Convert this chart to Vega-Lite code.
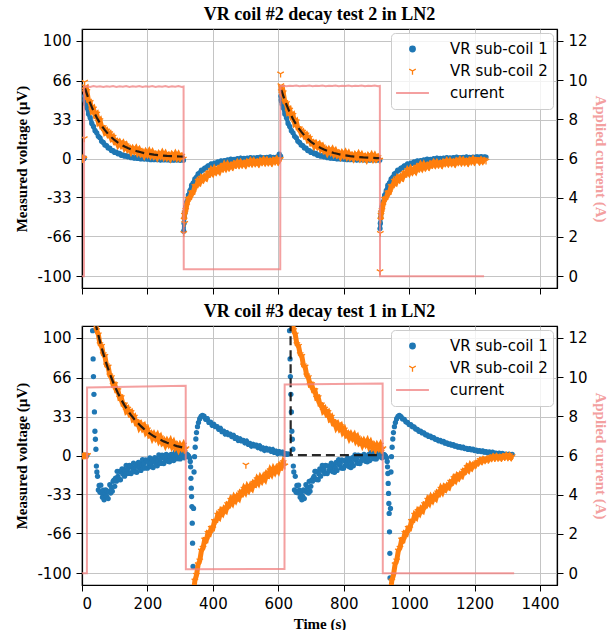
{
"$schema": "https://vega.github.io/schema/vega-lite/v6.json",
"background": "white",
"padding": {"left": 14, "right": 4, "top": 5, "bottom": 4},
"config": {
 "view": {"stroke": "black", "strokeWidth": 1.2},
 "axis": {"domainColor": "black", "domainWidth": 1.2, "tickColor": "black", "tickWidth": 1, "tickSize": 6, "labelFont": "DejaVu Sans", "labelFontSize": 15, "labelColor": "black", "labelPadding": 5, "titleFont": "Liberation Serif", "titleFontSize": 15, "titleFontWeight": "bold", "titleColor": "black", "gridColor": "#c4c4c4", "gridWidth": 1},
 "title": {"font": "Liberation Serif", "fontSize": 18, "fontWeight": "bold", "color": "black", "offset": 5},
 "legend": {"labelFont": "DejaVu Sans", "labelFontSize": 15, "labelColor": "black"}
},
"datasets": {
"blue1": [
{"t":0,"v":0},{"t":2,"v":0.1},{"t":4,"v":-0.1},{"t":6,"v":0},{"t":7,"v":0.6},{"t":7.5,"v":null},{"t":8,"v":53},{"t":9,"v":50},{"t":10,"v":48.5},{"t":12,"v":46},
{"t":15,"v":43.1},{"t":20,"v":37.8},{"t":25,"v":34.6},{"t":30,"v":29.8},{"t":35,"v":27.2},{"t":40,"v":23.6},{"t":45,"v":21.8},{"t":50,"v":18.8},{"t":55,"v":17.6},{"t":60,"v":14.6},{"t":65,"v":13.6},{"t":70,"v":11.5},{"t":75,"v":10.9},{"t":80,"v":9.0},{"t":85,"v":8.8},{"t":90,"v":6.7},{"t":95,"v":6.6},{"t":100,"v":5.2},{"t":105,"v":5.3},{"t":110,"v":4.0},{"t":115,"v":4.3},{"t":120,"v":2.7},{"t":125,"v":3.0},{"t":130,"v":2.0},{"t":135,"v":2.4},{"t":140,"v":1.4},{"t":145,"v":2.0},{"t":150,"v":0.7},{"t":155,"v":1.1},{"t":160,"v":0.3},{"t":165,"v":1.0},{"t":170,"v":0.1},{"t":175,"v":0.8},{"t":180,"v":-0.4},{"t":185,"v":0.2},{"t":190,"v":-0.5},{"t":195,"v":0.2},{"t":200,"v":-0.6},{"t":205,"v":0.2},{"t":210,"v":-1.0},{"t":215,"v":-0.3},{"t":220,"v":-1.0},{"t":225,"v":-0.2},{"t":230,"v":-1.0},{"t":235,"v":-0.1},{"t":240,"v":-1.3},{"t":245,"v":-0.6},{"t":250,"v":-1.2},{"t":255,"v":-0.5},{"t":260,"v":-1.2},{"t":265,"v":-0.3},{"t":270,"v":-1.4},{"t":275,"v":-0.8},{"t":280,"v":-1.4},{"t":285,"v":-0.6},{"t":290,"v":-1.3},{"t":295,"v":-0.4},{"t":300,"v":-1.5},{"t":305,"v":-0.8},{"t":310,"v":-1.4},{"t":310.5,"v":null},
{"t":311,"v":-61.8},{"t":312,"v":-55},{"t":313,"v":-50},{"t":314,"v":-47},{"t":315,"v":-45},{"t":317,"v":-41},{"t":320,"v":-37},{"t":325,"v":-31.1},{"t":330,"v":-27.3},{"t":335,"v":-22.7},{"t":340,"v":-20.7},{"t":345,"v":-17.4},{"t":350,"v":-15.8},{"t":355,"v":-13.1},{"t":360,"v":-12.2},{"t":365,"v":-9.9},{"t":370,"v":-9.8},{"t":375,"v":-8.1},{"t":380,"v":-7.8},{"t":385,"v":-6.2},{"t":390,"v":-6.2},{"t":395,"v":-4.6},{"t":400,"v":-5.2},{"t":405,"v":-4.0},{"t":410,"v":-4.1},{"t":415,"v":-2.9},{"t":420,"v":-3.3},{"t":425,"v":-2.0},{"t":430,"v":-2.8},{"t":435,"v":-1.9},{"t":440,"v":-2.2},{"t":445,"v":-1.2},{"t":450,"v":-1.7},{"t":455,"v":-0.6},{"t":460,"v":-1.5},{"t":465,"v":-0.7},{"t":470,"v":-1.1},{"t":475,"v":-0.2},{"t":480,"v":-0.8},{"t":485,"v":0.3},{"t":490,"v":-0.8},{"t":495,"v":0.1},{"t":500,"v":-0.5},{"t":505,"v":0.4},{"t":510,"v":-0.2},{"t":515,"v":0.8},{"t":520,"v":-0.3},{"t":525,"v":0.5},{"t":530,"v":-0.1},{"t":535,"v":0.8},{"t":540,"v":0.2},{"t":545,"v":1.1},{"t":550,"v":0.0},{"t":555,"v":0.8},{"t":560,"v":0.2},{"t":565,"v":1.0},{"t":570,"v":0.4},{"t":575,"v":1.3},{"t":580,"v":0.2},{"t":585,"v":0.9},{"t":590,"v":0.4},{"t":595,"v":1.2},{"t":600,"v":0.5},{"t":603,"v":3.7},{"t":605,"v":1.4},{"t":605.5,"v":null},
{"t":606,"v":0.8},{"t":607,"v":2},{"t":607.5,"v":null},{"t":608,"v":53},{"t":609,"v":50},{"t":610,"v":48.5},{"t":612,"v":46},
{"t":615,"v":43.1},{"t":620,"v":37.8},{"t":625,"v":34.6},{"t":630,"v":29.8},{"t":635,"v":27.2},{"t":640,"v":23.6},{"t":645,"v":21.8},{"t":650,"v":18.8},{"t":655,"v":17.6},{"t":660,"v":14.6},{"t":665,"v":13.6},{"t":670,"v":11.5},{"t":675,"v":10.9},{"t":680,"v":9.0},{"t":685,"v":8.8},{"t":690,"v":6.7},{"t":695,"v":6.6},{"t":700,"v":5.2},{"t":705,"v":5.3},{"t":710,"v":4.0},{"t":715,"v":4.3},{"t":720,"v":2.7},{"t":725,"v":3.0},{"t":730,"v":2.0},{"t":735,"v":2.4},{"t":740,"v":1.4},{"t":745,"v":2.0},{"t":750,"v":0.7},{"t":755,"v":1.1},{"t":760,"v":0.3},{"t":765,"v":1.0},{"t":770,"v":0.1},{"t":775,"v":0.8},{"t":780,"v":-0.4},{"t":785,"v":0.2},{"t":790,"v":-0.5},{"t":795,"v":0.2},{"t":800,"v":-0.6},{"t":805,"v":0.2},{"t":810,"v":-1.0},{"t":815,"v":-0.3},{"t":820,"v":-1.0},{"t":825,"v":-0.2},{"t":830,"v":-1.0},{"t":835,"v":-0.1},{"t":840,"v":-1.3},{"t":845,"v":-0.6},{"t":850,"v":-1.2},{"t":855,"v":-0.5},{"t":860,"v":-1.2},{"t":865,"v":-0.3},{"t":870,"v":-1.4},{"t":875,"v":-0.8},{"t":880,"v":-1.4},{"t":885,"v":-0.6},{"t":890,"v":-1.3},{"t":895,"v":-0.4},{"t":900,"v":-1.5},{"t":905,"v":-0.8},{"t":910,"v":-1.4},{"t":910.5,"v":null},
{"t":911,"v":-59.5},{"t":912,"v":-55},{"t":913,"v":-50},{"t":914,"v":-47},{"t":915,"v":-45},{"t":917,"v":-41},{"t":920,"v":-37},{"t":925,"v":-31.1},{"t":930,"v":-27.3},{"t":935,"v":-22.7},{"t":940,"v":-20.7},{"t":945,"v":-17.4},{"t":950,"v":-15.8},{"t":955,"v":-13.1},{"t":960,"v":-12.2},{"t":965,"v":-9.9},{"t":970,"v":-9.8},{"t":975,"v":-8.1},{"t":980,"v":-7.8},{"t":985,"v":-6.2},{"t":990,"v":-6.2},{"t":995,"v":-4.6},{"t":1000,"v":-5.2},{"t":1005,"v":-4.0},{"t":1010,"v":-4.1},{"t":1015,"v":-2.9},{"t":1020,"v":-3.3},{"t":1025,"v":-2.0},{"t":1030,"v":-2.8},{"t":1035,"v":-1.9},{"t":1040,"v":-2.2},{"t":1045,"v":-1.2},{"t":1050,"v":-1.7},{"t":1055,"v":-0.6},{"t":1060,"v":-1.5},{"t":1065,"v":-0.7},{"t":1070,"v":-1.1},{"t":1075,"v":-0.2},{"t":1080,"v":-0.8},{"t":1085,"v":0.3},{"t":1090,"v":-0.8},{"t":1095,"v":0.1},{"t":1100,"v":-0.5},{"t":1105,"v":0.4},{"t":1110,"v":-0.2},{"t":1115,"v":0.8},{"t":1120,"v":-0.3},{"t":1125,"v":0.5},{"t":1130,"v":-0.1},{"t":1135,"v":0.8},{"t":1140,"v":0.2},{"t":1145,"v":1.1},{"t":1150,"v":0.0},{"t":1155,"v":0.8},{"t":1160,"v":0.2},{"t":1165,"v":1.0},{"t":1170,"v":0.4},{"t":1175,"v":1.3},{"t":1180,"v":0.2},{"t":1185,"v":0.9},{"t":1190,"v":0.4},{"t":1195,"v":1.2},{"t":1200,"v":0.5},{"t":1205,"v":1.4},{"t":1210,"v":1.3},{"t":1215,"v":0.9},{"t":1220,"v":1.5},{"t":1225,"v":1.0},{"t":1230,"v":1.4},{"t":1235,"v":1.2}
],
"orange1": [
{"t":0,"v":0.3},{"t":2,"v":-0.4},{"t":4,"v":0.5},{"t":6,"v":-0.2},{"t":6.5,"v":null},{"t":7,"v":17},{"t":8,"v":65},{"t":9,"v":58.5},{"t":10,"v":61},{"t":11,"v":56.5},{"t":12,"v":55.5},
{"t":15,"v":57.1},{"t":20,"v":48.8},{"t":25,"v":47.8},{"t":30,"v":40.8},{"t":35,"v":42.3},{"t":40,"v":36.7},{"t":45,"v":37.9},{"t":50,"v":30.9},{"t":55,"v":32.4},{"t":60,"v":26.6},{"t":65,"v":26.4},{"t":70,"v":22.2},{"t":75,"v":23.6},{"t":80,"v":20.2},{"t":85,"v":21.3},{"t":90,"v":17.0},{"t":95,"v":18.3},{"t":100,"v":14.2},{"t":105,"v":15.0},{"t":110,"v":11.6},{"t":115,"v":13.7},{"t":120,"v":11.1},{"t":125,"v":12.9},{"t":130,"v":9.2},{"t":135,"v":11.1},{"t":140,"v":7.6},{"t":145,"v":8.8},{"t":150,"v":5.8},{"t":155,"v":8.4},{"t":160,"v":6.2},{"t":165,"v":8.4},{"t":170,"v":5.0},{"t":175,"v":7.2},{"t":180,"v":4.0},{"t":185,"v":5.4},{"t":190,"v":2.7},{"t":195,"v":5.6},{"t":200,"v":3.5},{"t":205,"v":5.9},{"t":210,"v":2.7},{"t":215,"v":5.1},{"t":220,"v":2.0},{"t":225,"v":3.6},{"t":230,"v":1.1},{"t":235,"v":4.0},{"t":240,"v":2.1},{"t":245,"v":4.6},{"t":250,"v":1.5},{"t":255,"v":3.9},{"t":260,"v":0.9},{"t":265,"v":2.7},{"t":270,"v":0.2},{"t":275,"v":3.2},{"t":280,"v":1.3},{"t":285,"v":3.8},{"t":290,"v":0.8},{"t":295,"v":3.3},{"t":300,"v":0.4},{"t":305,"v":2.1},{"t":310,"v":-0.3},{"t":310.5,"v":null},
{"t":311,"v":-63.5},{"t":312,"v":-52},{"t":313,"v":-48},{"t":314,"v":-55},{"t":315,"v":-46},{"t":317,"v":-44},{"t":320,"v":-40},{"t":325,"v":-34.4},{"t":330,"v":-33.8},{"t":335,"v":-29.0},{"t":340,"v":-28.9},{"t":345,"v":-23.6},{"t":350,"v":-23.4},{"t":355,"v":-19.1},{"t":360,"v":-20.5},{"t":365,"v":-16.5},{"t":370,"v":-18.1},{"t":375,"v":-15.2},{"t":380,"v":-16.5},{"t":385,"v":-12.5},{"t":390,"v":-13.4},{"t":395,"v":-10.0},{"t":400,"v":-12.3},{"t":405,"v":-9.0},{"t":410,"v":-11.3},{"t":415,"v":-8.9},{"t":420,"v":-10.8},{"t":425,"v":-7.2},{"t":430,"v":-8.6},{"t":435,"v":-5.5},{"t":440,"v":-8.1},{"t":445,"v":-5.2},{"t":450,"v":-7.7},{"t":455,"v":-5.7},{"t":460,"v":-7.3},{"t":465,"v":-4.5},{"t":470,"v":-5.8},{"t":475,"v":-3.4},{"t":480,"v":-5.6},{"t":485,"v":-3.3},{"t":490,"v":-5.4},{"t":495,"v":-3.8},{"t":500,"v":-5.6},{"t":505,"v":-2.9},{"t":510,"v":-4.3},{"t":515,"v":-2.0},{"t":520,"v":-4.3},{"t":525,"v":-2.1},{"t":530,"v":-4.2},{"t":535,"v":-2.7},{"t":540,"v":-4.5},{"t":545,"v":-1.9},{"t":550,"v":-3.3},{"t":555,"v":-1.1},{"t":560,"v":-3.4},{"t":565,"v":-1.3},{"t":570,"v":-3.5},{"t":575,"v":-2.0},{"t":580,"v":-3.8},{"t":585,"v":-1.3},{"t":590,"v":-2.7},{"t":595,"v":-0.6},{"t":600,"v":-2.9},{"t":605,"v":-0.8},
{"t":606,"v":-0.5},{"t":606.5,"v":null},{"t":607,"v":72},{"t":608,"v":62},{"t":609,"v":57},{"t":610,"v":60.5},{"t":611,"v":55},{"t":612,"v":55},
{"t":615,"v":56.1},{"t":620,"v":47.8},{"t":625,"v":46.8},{"t":630,"v":39.8},{"t":635,"v":41.3},{"t":640,"v":35.7},{"t":645,"v":36.9},{"t":650,"v":29.9},{"t":655,"v":31.4},{"t":660,"v":25.6},{"t":665,"v":25.4},{"t":670,"v":21.2},{"t":675,"v":22.6},{"t":680,"v":19.2},{"t":685,"v":20.3},{"t":690,"v":16.0},{"t":695,"v":17.3},{"t":700,"v":13.2},{"t":705,"v":14.0},{"t":710,"v":10.6},{"t":715,"v":12.7},{"t":720,"v":10.1},{"t":725,"v":11.9},{"t":730,"v":8.2},{"t":735,"v":10.1},{"t":740,"v":6.6},{"t":745,"v":7.8},{"t":750,"v":4.8},{"t":755,"v":7.4},{"t":760,"v":5.2},{"t":765,"v":7.4},{"t":770,"v":4.0},{"t":775,"v":6.2},{"t":780,"v":3.0},{"t":785,"v":4.4},{"t":790,"v":1.7},{"t":795,"v":4.6},{"t":800,"v":2.5},{"t":805,"v":4.9},{"t":810,"v":1.7},{"t":815,"v":4.1},{"t":820,"v":1.0},{"t":825,"v":2.6},{"t":830,"v":0.1},{"t":835,"v":3.0},{"t":840,"v":1.1},{"t":845,"v":3.6},{"t":850,"v":0.5},{"t":855,"v":2.9},{"t":860,"v":-0.1},{"t":865,"v":1.7},{"t":870,"v":-0.8},{"t":875,"v":2.2},{"t":880,"v":0.3},{"t":885,"v":2.8},{"t":890,"v":-0.2},{"t":895,"v":2.3},{"t":900,"v":-0.6},{"t":905,"v":1.1},{"t":910,"v":-1.3},{"t":910.5,"v":null},
{"t":911,"v":-96},{"t":912,"v":-63.5},{"t":913,"v":-52},{"t":914,"v":-48},{"t":915,"v":-46},{"t":917,"v":-44},{"t":920,"v":-40},{"t":925,"v":-34.4},{"t":930,"v":-33.8},{"t":935,"v":-29.0},{"t":940,"v":-28.9},{"t":945,"v":-23.6},{"t":950,"v":-23.4},{"t":955,"v":-19.1},{"t":960,"v":-20.5},{"t":965,"v":-16.5},{"t":970,"v":-18.1},{"t":975,"v":-15.2},{"t":980,"v":-16.5},{"t":985,"v":-12.5},{"t":990,"v":-13.4},{"t":995,"v":-10.0},{"t":1000,"v":-12.3},{"t":1005,"v":-9.0},{"t":1010,"v":-11.3},{"t":1015,"v":-8.9},{"t":1020,"v":-10.8},{"t":1025,"v":-7.2},{"t":1030,"v":-8.6},{"t":1035,"v":-5.5},{"t":1040,"v":-8.1},{"t":1045,"v":-5.2},{"t":1050,"v":-7.7},{"t":1055,"v":-5.7},{"t":1060,"v":-7.3},{"t":1065,"v":-4.5},{"t":1070,"v":-5.8},{"t":1075,"v":-3.4},{"t":1080,"v":-5.6},{"t":1085,"v":-3.3},{"t":1090,"v":-5.4},{"t":1095,"v":-3.8},{"t":1100,"v":-5.6},{"t":1105,"v":-2.9},{"t":1110,"v":-4.3},{"t":1115,"v":-2.0},{"t":1120,"v":-4.3},{"t":1125,"v":-2.1},{"t":1130,"v":-4.2},{"t":1135,"v":-2.7},{"t":1140,"v":-4.5},{"t":1145,"v":-1.9},{"t":1150,"v":-3.3},{"t":1155,"v":-1.1},{"t":1160,"v":-3.4},{"t":1165,"v":-1.3},{"t":1170,"v":-3.5},{"t":1175,"v":-2.0},{"t":1180,"v":-3.8},{"t":1185,"v":-1.3},{"t":1190,"v":-2.7},{"t":1195,"v":-0.6},{"t":1200,"v":-2.9},{"t":1205,"v":-0.8},{"t":1210,"v":-1.0},{"t":1215,"v":-2.8},{"t":1220,"v":-0.9},{"t":1225,"v":-2.6},{"t":1230,"v":-1.1},{"t":1235,"v":-2.0}
],
"fit1": [
{"t":9,"v":59.5,"k":1},{"t":10,"v":59.0,"k":1},{"t":15,"v":54.7,"k":1},{"t":20,"v":50.7,"k":1},{"t":25,"v":47.1,"k":1},{"t":30,"v":43.7,"k":1},{"t":35,"v":40.5,"k":1},{"t":40,"v":37.6,"k":1},{"t":45,"v":34.9,"k":1},{"t":50,"v":32.4,"k":1},{"t":55,"v":30.0,"k":1},{"t":60,"v":27.9,"k":1},{"t":70,"v":24.1,"k":1},{"t":80,"v":20.8,"k":1},{"t":90,"v":18.0,"k":1},{"t":100,"v":15.5,"k":1},{"t":110,"v":13.5,"k":1},{"t":120,"v":11.7,"k":1},{"t":130,"v":10.2,"k":1},{"t":140,"v":8.9,"k":1},{"t":150,"v":7.7,"k":1},{"t":160,"v":6.8,"k":1},{"t":170,"v":6.0,"k":1},{"t":180,"v":5.3,"k":1},{"t":190,"v":4.6,"k":1},{"t":200,"v":4.1,"k":1},{"t":220,"v":3.3,"k":1},{"t":240,"v":2.7,"k":1},{"t":260,"v":2.2,"k":1},{"t":280,"v":1.9,"k":1},{"t":300,"v":1.7,"k":1},{"t":312,"v":1.6,"k":1},
{"t":609,"v":58.2,"k":2},{"t":610,"v":57.7,"k":2},{"t":615,"v":53.4,"k":2},{"t":620,"v":49.4,"k":2},{"t":625,"v":45.8,"k":2},{"t":630,"v":42.4,"k":2},{"t":635,"v":39.2,"k":2},{"t":640,"v":36.3,"k":2},{"t":645,"v":33.6,"k":2},{"t":650,"v":31.1,"k":2},{"t":655,"v":28.7,"k":2},{"t":660,"v":26.6,"k":2},{"t":670,"v":22.8,"k":2},{"t":680,"v":19.5,"k":2},{"t":690,"v":16.7,"k":2},{"t":700,"v":14.2,"k":2},{"t":710,"v":12.2,"k":2},{"t":720,"v":10.4,"k":2},{"t":730,"v":8.9,"k":2},{"t":740,"v":7.6,"k":2},{"t":750,"v":6.4,"k":2},{"t":760,"v":5.5,"k":2},{"t":770,"v":4.7,"k":2},{"t":780,"v":4.0,"k":2},{"t":790,"v":3.3,"k":2},{"t":800,"v":2.8,"k":2},{"t":820,"v":2.0,"k":2},{"t":840,"v":1.4,"k":2},{"t":860,"v":0.9,"k":2},{"t":880,"v":0.6,"k":2},{"t":900,"v":0.4,"k":2},{"t":912,"v":0.3,"k":2}
],
"cur1": [
{"t":0,"A":0},{"t":6,"A":0},{"t":6.5,"A":9.66},{"t":15,"A":9.68},{"t":25,"A":9.65},{"t":35,"A":9.69},{"t":45,"A":9.66},{"t":55,"A":9.68},{"t":65,"A":9.65},{"t":75,"A":9.68},{"t":85,"A":9.66},{"t":95,"A":9.69},{"t":105,"A":9.65},{"t":115,"A":9.68},{"t":125,"A":9.66},{"t":135,"A":9.69},{"t":145,"A":9.65},{"t":155,"A":9.68},{"t":165,"A":9.66},{"t":175,"A":9.69},{"t":185,"A":9.65},{"t":195,"A":9.68},{"t":205,"A":9.66},{"t":215,"A":9.69},{"t":225,"A":9.65},{"t":235,"A":9.68},{"t":245,"A":9.66},{"t":255,"A":9.69},{"t":265,"A":9.65},{"t":275,"A":9.68},{"t":285,"A":9.66},{"t":295,"A":9.69},{"t":305,"A":9.65},{"t":310.5,"A":9.67},{"t":311,"A":0.36},{"t":606,"A":0.36},{"t":606.5,"A":9.69},{"t":615,"A":9.71},{"t":625,"A":9.68},{"t":635,"A":9.71},{"t":645,"A":9.69},{"t":655,"A":9.72},{"t":665,"A":9.68},{"t":675,"A":9.71},{"t":685,"A":9.69},{"t":695,"A":9.72},{"t":705,"A":9.68},{"t":715,"A":9.71},{"t":725,"A":9.69},{"t":735,"A":9.72},{"t":745,"A":9.68},{"t":755,"A":9.71},{"t":765,"A":9.69},{"t":775,"A":9.72},{"t":785,"A":9.68},{"t":795,"A":9.71},{"t":805,"A":9.69},{"t":815,"A":9.72},{"t":825,"A":9.68},{"t":835,"A":9.71},{"t":845,"A":9.69},{"t":855,"A":9.72},{"t":865,"A":9.68},{"t":875,"A":9.71},{"t":885,"A":9.69},{"t":895,"A":9.72},{"t":905,"A":9.68},{"t":910.5,"A":9.7},{"t":911,"A":0},{"t":1229,"A":0}
],
"blue2": [
{"t":0,"v":0},{"t":3,"v":0.2},{"t":6,"v":-0.1},{"t":9,"v":0.1},{"t":12,"v":0},{"t":15,"v":0.2},
{"t":32.5,"v":106},{"t":34,"v":82},{"t":35,"v":67},{"t":36.5,"v":52},{"t":38,"v":37},{"t":39.5,"v":20.6},{"t":41,"v":13.8},{"t":42.5,"v":5.3},{"t":44,"v":-9},{"t":45.5,"v":-14},
{"t":47.5,"v":-17.7},{"t":50,"v":-29.2},{"t":52.5,"v":-25.5},{"t":55,"v":-31.3},{"t":57.5,"v":-25.2},{"t":60,"v":-31.7},{"t":62.5,"v":-35.4},{"t":65,"v":-29.4},{"t":67.5,"v":-37.6},{"t":70,"v":-32.1},{"t":72.5,"v":-29.3},{"t":75,"v":-34.8},{"t":77.5,"v":-30.3},{"t":80,"v":-36.6},{"t":82.5,"v":-30.7},{"t":85,"v":-24.8},{"t":87.5,"v":-31.9},{"t":90,"v":-26.9},{"t":92.5,"v":-30.3},{"t":95,"v":-21.9},{"t":97.5,"v":-20.9},{"t":100,"v":-26.2},{"t":102.5,"v":-19.2},{"t":105,"v":-21.8},{"t":107.5,"v":-13.4},{"t":110,"v":-17.7},{"t":112.5,"v":-20.4},{"t":115,"v":-13.4},{"t":117.5,"v":-20.6},{"t":120,"v":-14.1},{"t":122.5,"v":-11.3},{"t":125,"v":-15.8},{"t":127.5,"v":-11.9},{"t":130,"v":-17.6},{"t":132.5,"v":-12.9},{"t":135,"v":-8.3},{"t":137.5,"v":-15.3},{"t":140,"v":-11.5},{"t":142.5,"v":-15.2},{"t":145,"v":-8.3},{"t":147.5,"v":-8.9},{"t":150,"v":-15.3},{"t":152.5,"v":-9.8},{"t":155,"v":-13.1},{"t":157.5,"v":-6.4},{"t":160,"v":-11.1},{"t":162.5,"v":-13.7},{"t":165,"v":-7.7},{"t":167.5,"v":-14.3},{"t":170,"v":-8.7},{"t":172.5,"v":-5.9},{"t":175,"v":-10.6},{"t":177.5,"v":-6.8},{"t":180,"v":-12.7},{"t":182.5,"v":-8.1},{"t":185,"v":-3.5},{"t":187.5,"v":-10.6},{"t":190,"v":-6.8},{"t":192.5,"v":-10.6},{"t":195,"v":-3.7},{"t":197.5,"v":-4.4},{"t":200,"v":-10.8},{"t":202.5,"v":-5.4},{"t":205,"v":-8.7},{"t":207.5,"v":-2.1},{"t":210,"v":-6.8},{"t":212.5,"v":-9.5},{"t":215,"v":-3.5},{"t":217.5,"v":-10.2},{"t":220,"v":-4.6},{"t":222.5,"v":-1.9},{"t":225,"v":-6.6},{"t":227.5,"v":-2.8},{"t":230,"v":-8.7},{"t":232.5,"v":-4.1},{"t":235,"v":0.5},{"t":237.5,"v":-6.6},{"t":240,"v":-2.8},{"t":242.5,"v":-6.6},{"t":245,"v":0.3},{"t":247.5,"v":-0.4},{"t":250,"v":-6.8},{"t":252.5,"v":-1.8},{"t":255,"v":-4.2},{"t":257.5,"v":0.9},{"t":260,"v":-2.8},{"t":262.5,"v":-4.9},{"t":265,"v":-0.2},{"t":267.5,"v":-5.4},{"t":270,"v":-1.1},{"t":272.5,"v":1.0},{"t":275,"v":-2.7},{"t":277.5,"v":0.3},{"t":280,"v":-4.3},{"t":282.5,"v":-0.8},{"t":285,"v":2.8},{"t":287.5,"v":-2.7},{"t":290,"v":0.3},{"t":292.5,"v":-2.7},{"t":295,"v":2.7},{"t":297.5,"v":2.1},{"t":300,"v":-2.9},{"t":302.5,"v":1.2},{"t":305,"v":-1.3},{"t":307.5,"v":3.9},{"t":310,"v":0.1},{"t":312.5,"v":-2.0},{"t":315,"v":2.6},{"t":317.5,"v":-0.9},
{"t":320,"v":1.0},{"t":323,"v":0.5},{"t":326,"v":-0.5},{"t":329,"v":-2},{"t":331,"v":-5},{"t":332,"v":-9.6},{"t":333,"v":-19.4},{"t":334,"v":-27.8},{"t":335,"v":-34.9},{"t":336,"v":-43.4},{"t":337,"v":-57.5},{"t":338,"v":-74.5},{"t":339.5,"v":-94.3},{"t":341,"v":-45},{"t":342.5,"v":-14},{"t":344,"v":-1},{"t":346,"v":7},{"t":348,"v":14},{"t":350,"v":19.5},{"t":353,"v":24.5},{"t":356,"v":28},{"t":360,"v":31.3},{"t":364,"v":33.2},{"t":368,"v":34},
{"t":373,"v":33.5},{"t":378,"v":30.8},{"t":383,"v":31.3},{"t":388,"v":28.1},{"t":393,"v":28.3},{"t":398,"v":25.6},{"t":403,"v":26.5},{"t":408,"v":24.5},{"t":413,"v":24.6},{"t":418,"v":22.3},{"t":423,"v":23.1},{"t":428,"v":20.2},{"t":433,"v":20.7},{"t":438,"v":18.3},{"t":443,"v":19.5},{"t":448,"v":17.7},{"t":453,"v":18.1},{"t":458,"v":16.1},{"t":463,"v":17.1},{"t":468,"v":14.5},{"t":473,"v":15.1},{"t":478,"v":12.8},{"t":483,"v":14.1},{"t":488,"v":12.4},{"t":493,"v":12.9},{"t":498,"v":10.9},{"t":503,"v":12.1},{"t":508,"v":9.5},{"t":513,"v":10.3},{"t":518,"v":8.1},{"t":523,"v":9.5},{"t":528,"v":8.1},{"t":533,"v":8.7},{"t":538,"v":6.8},{"t":543,"v":8.1},{"t":548,"v":5.7},{"t":553,"v":6.5},{"t":558,"v":4.5},{"t":563,"v":6.0},{"t":568,"v":4.7},{"t":573,"v":5.4},{"t":578,"v":3.6},{"t":583,"v":5.0},{"t":588,"v":2.6},{"t":593,"v":3.6},{"t":598,"v":1.7},{"t":603,"v":3.3},{"t":608,"v":2.0},{"t":613,"v":2.8},{"t":618,"v":1.1},{"t":622,"v":1.6},{"t":626,"v":0.9},{"t":630,"v":1.3},{"t":631,"v":null},
{"t":634.5,"v":106},{"t":636,"v":82},{"t":637,"v":67},{"t":638.5,"v":52},{"t":640,"v":37},{"t":641.5,"v":20.6},{"t":643,"v":13.8},{"t":644.5,"v":5.3},{"t":646,"v":-9},{"t":647.5,"v":-14},
{"t":649.5,"v":-29.2},{"t":652,"v":-17.7},{"t":654.5,"v":-31.3},{"t":657,"v":-25.5},{"t":659.5,"v":-31.7},{"t":662,"v":-25.2},{"t":664.5,"v":-29.4},{"t":667,"v":-35.4},{"t":669.5,"v":-32.1},{"t":672,"v":-37.6},{"t":674.5,"v":-34.8},{"t":677,"v":-29.3},{"t":679.5,"v":-36.6},{"t":682,"v":-30.3},{"t":684.5,"v":-24.8},{"t":687,"v":-30.7},{"t":689.5,"v":-26.9},{"t":692,"v":-31.9},{"t":694.5,"v":-21.9},{"t":697,"v":-30.3},{"t":699.5,"v":-26.2},{"t":702,"v":-20.9},{"t":704.5,"v":-21.8},{"t":707,"v":-19.2},{"t":709.5,"v":-17.7},{"t":712,"v":-13.4},{"t":714.5,"v":-13.4},{"t":717,"v":-20.4},{"t":719.5,"v":-14.1},{"t":722,"v":-20.6},{"t":724.5,"v":-15.8},{"t":727,"v":-11.3},{"t":729.5,"v":-17.6},{"t":732,"v":-11.9},{"t":734.5,"v":-8.3},{"t":737,"v":-12.9},{"t":739.5,"v":-11.5},{"t":742,"v":-15.3},{"t":744.5,"v":-8.3},{"t":747,"v":-15.2},{"t":749.5,"v":-15.3},{"t":752,"v":-8.9},{"t":754.5,"v":-13.1},{"t":757,"v":-9.8},{"t":759.5,"v":-11.1},{"t":762,"v":-6.4},{"t":764.5,"v":-7.7},{"t":767,"v":-13.7},{"t":769.5,"v":-8.7},{"t":772,"v":-14.3},{"t":774.5,"v":-10.6},{"t":777,"v":-5.9},{"t":779.5,"v":-12.7},{"t":782,"v":-6.8},{"t":784.5,"v":-3.5},{"t":787,"v":-8.1},{"t":789.5,"v":-6.8},{"t":792,"v":-10.6},{"t":794.5,"v":-3.7},{"t":797,"v":-10.6},{"t":799.5,"v":-10.8},{"t":802,"v":-4.4},{"t":804.5,"v":-8.7},{"t":807,"v":-5.4},{"t":809.5,"v":-6.8},{"t":812,"v":-2.1},{"t":814.5,"v":-3.5},{"t":817,"v":-9.5},{"t":819.5,"v":-4.6},{"t":822,"v":-10.2},{"t":824.5,"v":-6.6},{"t":827,"v":-1.9},{"t":829.5,"v":-8.7},{"t":832,"v":-2.8},{"t":834.5,"v":0.5},{"t":837,"v":-4.1},{"t":839.5,"v":-2.8},{"t":842,"v":-6.6},{"t":844.5,"v":0.3},{"t":847,"v":-6.6},{"t":849.5,"v":-6.8},{"t":852,"v":-0.4},{"t":854.5,"v":-4.2},{"t":857,"v":-1.8},{"t":859.5,"v":-2.8},{"t":862,"v":0.9},{"t":864.5,"v":-0.2},{"t":867,"v":-4.9},{"t":869.5,"v":-1.1},{"t":872,"v":-5.4},{"t":874.5,"v":-2.7},{"t":877,"v":1.0},{"t":879.5,"v":-4.3},{"t":882,"v":0.3},{"t":884.5,"v":2.8},{"t":887,"v":-0.8},{"t":889.5,"v":0.3},{"t":892,"v":-2.7},{"t":894.5,"v":2.7},{"t":897,"v":-2.7},{"t":899.5,"v":-2.9},{"t":902,"v":2.1},{"t":904.5,"v":-1.3},{"t":907,"v":1.2},{"t":909.5,"v":0.1},{"t":912,"v":3.9},{"t":914.5,"v":2.6},{"t":917,"v":-2.0},{"t":919.5,"v":-0.9},
{"t":922,"v":1.0},{"t":925,"v":0.5},{"t":928,"v":-0.5},{"t":931,"v":-2},{"t":933,"v":-5},{"t":934,"v":-9.6},{"t":935,"v":-15.3},{"t":936,"v":-23.7},{"t":937,"v":-32.2},{"t":938,"v":-40.7},{"t":939,"v":-49.2},{"t":940,"v":-64.8},{"t":941,"v":-83.1},{"t":941.5,"v":-104},{"t":943,"v":-45},{"t":944.5,"v":-14},{"t":946,"v":-1},{"t":948,"v":7},{"t":950,"v":14},{"t":952,"v":19.5},{"t":955,"v":24.5},{"t":958,"v":28},{"t":962,"v":31.3},{"t":966,"v":33.2},{"t":970,"v":34},
{"t":975,"v":33.1},{"t":980,"v":31.1},{"t":985,"v":30.7},{"t":990,"v":28.6},{"t":995,"v":28.1},{"t":1000,"v":26.3},{"t":1005,"v":26.2},{"t":1010,"v":24.5},{"t":1015,"v":24.3},{"t":1020,"v":22.5},{"t":1025,"v":22.2},{"t":1030,"v":20.6},{"t":1035,"v":20.7},{"t":1040,"v":19.2},{"t":1045,"v":19.3},{"t":1050,"v":17.6},{"t":1055,"v":17.5},{"t":1060,"v":16.2},{"t":1065,"v":16.4},{"t":1070,"v":15.1},{"t":1075,"v":15.2},{"t":1080,"v":13.7},{"t":1085,"v":13.7},{"t":1090,"v":12.5},{"t":1095,"v":12.8},{"t":1100,"v":11.6},{"t":1105,"v":11.9},{"t":1110,"v":10.5},{"t":1115,"v":10.6},{"t":1120,"v":9.5},{"t":1125,"v":9.9},{"t":1130,"v":8.8},{"t":1135,"v":9.2},{"t":1140,"v":7.9},{"t":1145,"v":8.2},{"t":1150,"v":7.1},{"t":1155,"v":7.6},{"t":1160,"v":6.6},{"t":1165,"v":7.1},{"t":1170,"v":5.9},{"t":1175,"v":6.1},{"t":1180,"v":5.2},{"t":1185,"v":5.8},{"t":1190,"v":4.8},{"t":1195,"v":5.3},{"t":1200,"v":4.2},{"t":1205,"v":4.5},{"t":1210,"v":3.6},{"t":1215,"v":4.2},{"t":1220,"v":3.3},{"t":1225,"v":3.9},{"t":1230,"v":2.8},{"t":1235,"v":3.2},{"t":1240,"v":2.3},{"t":1245,"v":3.0},{"t":1250,"v":2.1},{"t":1255,"v":2.8},{"t":1260,"v":1.7},{"t":1265,"v":2.1},{"t":1270,"v":1.3},{"t":1275,"v":2.0},{"t":1280,"v":1.1},{"t":1285,"v":1.8},{"t":1290,"v":0.8},{"t":1295,"v":1.2},{"t":1300,"v":0.4},{"t":1305,"v":1.1},{"t":1310,"v":0.3},{"t":1315,"v":1.0}
],
"orange2": [
{"t":0,"v":0},{"t":3,"v":-0.3},{"t":6,"v":0.4},{"t":9,"v":-0.2},{"t":12,"v":0.3},{"t":15,"v":-0.1},{"t":17,"v":0.2},{"t":30,"v":null},
{"t":42,"v":111.5},{"t":45,"v":106.3},{"t":50,"v":102.7},{"t":55,"v":94.4},{"t":60,"v":92.9},{"t":65,"v":85.9},{"t":70,"v":84.4},{"t":75,"v":76.4},{"t":80,"v":75.4},{"t":85,"v":67.9},{"t":90,"v":66.4},{"t":95,"v":60.0},{"t":100,"v":60.4},{"t":105,"v":55.2},{"t":110,"v":55.3},{"t":115,"v":48.9},{"t":120,"v":49.4},{"t":125,"v":43.4},{"t":130,"v":43.2},{"t":135,"v":38.0},{"t":140,"v":39.6},{"t":145,"v":35.5},{"t":150,"v":36.7},{"t":155,"v":31.3},{"t":160,"v":32.7},{"t":165,"v":27.6},{"t":170,"v":28.3},{"t":175,"v":23.9},{"t":180,"v":26.3},{"t":185,"v":22.9},{"t":190,"v":24.8},{"t":195,"v":20.0},{"t":200,"v":22.0},{"t":205,"v":17.5},{"t":210,"v":18.7},{"t":215,"v":14.9},{"t":220,"v":17.7},{"t":225,"v":14.8},{"t":230,"v":17.1},{"t":235,"v":12.8},{"t":240,"v":15.2},{"t":245,"v":11.0},{"t":250,"v":12.6},{"t":255,"v":9.1},{"t":260,"v":12.2},{"t":265,"v":9.6},{"t":270,"v":12.2},{"t":275,"v":8.1},{"t":280,"v":10.8},{"t":285,"v":6.8},{"t":290,"v":8.6},{"t":295,"v":5.4},{"t":300,"v":8.7},{"t":305,"v":6.3},{"t":310,"v":9.0},{"t":315,"v":5.1},{"t":318,"v":6.0},{"t":330,"v":null},
{"t":342,"v":-113.5},{"t":345,"v":-106.4},{"t":350,"v":-101.6},{"t":355,"v":-92.6},{"t":360,"v":-89.3},{"t":365,"v":-80.9},{"t":370,"v":-78.6},{"t":375,"v":-71.6},{"t":380,"v":-72.0},{"t":385,"v":-65.9},{"t":390,"v":-66.6},{"t":395,"v":-61.7},{"t":400,"v":-62.0},{"t":405,"v":-55.8},{"t":410,"v":-55.5},{"t":415,"v":-50.5},{"t":420,"v":-52.2},{"t":425,"v":-47.3},{"t":430,"v":-49.1},{"t":435,"v":-45.3},{"t":440,"v":-46.7},{"t":445,"v":-41.5},{"t":450,"v":-42.2},{"t":455,"v":-37.8},{"t":460,"v":-40.1},{"t":465,"v":-35.7},{"t":470,"v":-38.0},{"t":475,"v":-34.6},{"t":480,"v":-36.3},{"t":485,"v":-31.5},{"t":490,"v":-32.5},{"t":495,"v":-28.3},{"t":500,"v":-30.8},{"t":501,"v":-8},{"t":505,"v":-26.7},{"t":510,"v":-29.2},{"t":515,"v":-26.0},{"t":520,"v":-27.9},{"t":525,"v":-23.3},{"t":530,"v":-24.4},{"t":535,"v":-20.3},{"t":540,"v":-22.9},{"t":545,"v":-18.9},{"t":550,"v":-21.4},{"t":555,"v":-18.2},{"t":560,"v":-20.2},{"t":565,"v":-15.5},{"t":570,"v":-16.7},{"t":575,"v":-12.7},{"t":580,"v":-15.4},{"t":585,"v":-11.4},{"t":590,"v":-14.0},{"t":595,"v":-10.9},{"t":600,"v":-13.0},{"t":605,"v":-8.4},{"t":610,"v":-9.7},{"t":615,"v":-5.8},{"t":620,"v":-8.7},{"t":632,"v":null},
{"t":644,"v":111.5},{"t":647,"v":106.3},{"t":652,"v":102.7},{"t":657,"v":94.4},{"t":662,"v":92.9},{"t":667,"v":85.9},{"t":672,"v":84.4},{"t":677,"v":76.4},{"t":682,"v":75.4},{"t":687,"v":67.9},{"t":692,"v":66.4},{"t":697,"v":60.0},{"t":702,"v":60.4},{"t":707,"v":55.2},{"t":712,"v":55.3},{"t":717,"v":48.9},{"t":722,"v":49.4},{"t":727,"v":43.4},{"t":732,"v":43.2},{"t":737,"v":38.0},{"t":742,"v":39.6},{"t":747,"v":35.5},{"t":752,"v":36.7},{"t":757,"v":31.3},{"t":762,"v":32.7},{"t":767,"v":27.6},{"t":772,"v":28.3},{"t":777,"v":23.9},{"t":782,"v":26.3},{"t":787,"v":22.9},{"t":792,"v":24.8},{"t":797,"v":20.0},{"t":802,"v":22.0},{"t":807,"v":17.5},{"t":812,"v":18.7},{"t":817,"v":14.9},{"t":822,"v":17.7},{"t":827,"v":14.8},{"t":832,"v":17.1},{"t":837,"v":12.8},{"t":842,"v":15.2},{"t":847,"v":11.0},{"t":852,"v":12.6},{"t":857,"v":9.1},{"t":862,"v":12.2},{"t":867,"v":9.6},{"t":872,"v":12.2},{"t":877,"v":8.1},{"t":882,"v":10.8},{"t":887,"v":6.8},{"t":892,"v":8.6},{"t":897,"v":5.4},{"t":902,"v":8.7},{"t":907,"v":6.3},{"t":912,"v":9.0},{"t":917,"v":5.1},{"t":920,"v":6.0},{"t":932,"v":null},
{"t":944,"v":-113.5},{"t":947,"v":-106.4},{"t":952,"v":-101.6},{"t":957,"v":-92.6},{"t":962,"v":-89.3},{"t":967,"v":-80.9},{"t":972,"v":-78.6},{"t":977,"v":-71.6},{"t":982,"v":-72.0},{"t":987,"v":-65.9},{"t":992,"v":-66.6},{"t":997,"v":-61.7},{"t":1002,"v":-62.0},{"t":1007,"v":-55.8},{"t":1012,"v":-55.5},{"t":1017,"v":-50.5},{"t":1022,"v":-52.2},{"t":1027,"v":-47.3},{"t":1032,"v":-49.1},{"t":1037,"v":-45.3},{"t":1042,"v":-46.7},{"t":1047,"v":-41.5},{"t":1052,"v":-42.2},{"t":1057,"v":-37.8},{"t":1062,"v":-40.1},{"t":1067,"v":-35.7},{"t":1072,"v":-38.0},{"t":1077,"v":-34.6},{"t":1082,"v":-36.3},{"t":1087,"v":-31.5},{"t":1092,"v":-32.5},{"t":1097,"v":-28.3},{"t":1102,"v":-30.8},{"t":1107,"v":-26.9},{"t":1112,"v":-28.6},{"t":1117,"v":-25.6},{"t":1122,"v":-26.8},{"t":1127,"v":-22.5},{"t":1132,"v":-23.1},{"t":1137,"v":-19.3},{"t":1142,"v":-21.1},{"t":1147,"v":-17.3},{"t":1152,"v":-19.0},{"t":1157,"v":-16.0},{"t":1162,"v":-17.2},{"t":1167,"v":-13.0},{"t":1172,"v":-13.7},{"t":1177,"v":-10.0},{"t":1182,"v":-12.0},{"t":1187,"v":-8.4},{"t":1192,"v":-10.4},{"t":1197,"v":-7.7},{"t":1202,"v":-8.5},{"t":1207,"v":-5.9},{"t":1212,"v":-6.3},{"t":1217,"v":-4.0},{"t":1222,"v":-5.2},{"t":1227,"v":-3.0},{"t":1232,"v":-4.3},{"t":1237,"v":-2.8},{"t":1242,"v":-3.8},{"t":1247,"v":-1.7},{"t":1252,"v":-2.5},{"t":1257,"v":-0.7},{"t":1262,"v":-2.3},{"t":1267,"v":-0.6},{"t":1272,"v":-2.2},{"t":1277,"v":-1.0},{"t":1282,"v":-2.3},{"t":1287,"v":-0.5},{"t":1292,"v":-1.5},{"t":1297,"v":0.2},{"t":1302,"v":-1.6},{"t":1307,"v":0.0},{"t":1312,"v":-1.8},{"t":1315,"v":-0.7}
],
"fit2": [
{"t":40,"v":114.0,"k":1},{"t":45,"v":107.9,"k":1},{"t":50,"v":102.1,"k":1},{"t":60,"v":91.5,"k":1},{"t":70,"v":82.0,"k":1},{"t":80,"v":73.5,"k":1},{"t":90,"v":65.8,"k":1},{"t":100,"v":59.0,"k":1},{"t":110,"v":52.9,"k":1},{"t":120,"v":47.5,"k":1},{"t":130,"v":42.6,"k":1},{"t":140,"v":38.2,"k":1},{"t":150,"v":34.3,"k":1},{"t":160,"v":30.8,"k":1},{"t":170,"v":27.7,"k":1},{"t":180,"v":24.9,"k":1},{"t":190,"v":22.4,"k":1},{"t":200,"v":20.1,"k":1},{"t":210,"v":18.1,"k":1},{"t":220,"v":16.3,"k":1},{"t":230,"v":14.7,"k":1},{"t":240,"v":13.3,"k":1},{"t":250,"v":12.0,"k":1},{"t":260,"v":10.8,"k":1},{"t":270,"v":9.8,"k":1},{"t":280,"v":8.9,"k":1},{"t":290,"v":8.0,"k":1},{"t":300,"v":7.3,"k":1},{"t":310,"v":6.6,"k":1},{"t":318,"v":6.1,"k":1},
{"t":637.5,"v":125,"k":2},{"t":638,"v":0.3,"k":2},{"t":919,"v":0.3,"k":2}
],
"cur2": [
{"t":0,"A":0},{"t":15,"A":0},{"t":15.5,"A":9.47},{"t":317,"A":9.56},{"t":317.5,"A":0.2},{"t":619,"A":0.22},{"t":619.5,"A":9.62},{"t":919,"A":9.67},{"t":919.5,"A":0},{"t":1321,"A":0}
]
},
"vconcat": [
{
 "title": {"text": "VR coil #2 decay test 2 in LN2", "frame": "group", "anchor": "middle"},
 "width": 475, "height": 259,
 "layer": [
  {"layer": [
   {"data": {"name": "blue1"}, "transform": [{"filter": "datum.t != 603"}], "mark": {"type": "line", "color": "#1f77b4", "strokeWidth": 4, "clip": true, "invalid": "break-paths-show-domains"},
    "encoding": {
     "x": {"field": "t", "type": "quantitative", "scale": {"domain": [0, 1452], "nice": false, "zero": false}, "axis": {"values": [0,200,400,600,800,1000,1200,1400], "labels": false, "title": null, "grid": true}},
     "y": {"field": "v", "type": "quantitative", "scale": {"domain": [-110, 110], "nice": false, "zero": false}, "axis": {"values": [-100,-66,-33,0,33,66,100], "labelExpr": "'' + datum.value", "title": "Measured voltage (µV)", "grid": true, "titlePadding": 7}}
    }},
   {"data": {"name": "blue1"}, "mark": {"type": "point", "filled": true, "size": 28, "opacity": 1, "clip": true},
    "encoding": {
     "x": {"field": "t", "type": "quantitative"},
     "y": {"field": "v", "type": "quantitative"},
     "color": {"datum": "VR sub-coil 1", "type": "nominal", "scale": {"domain": ["VR sub-coil 1", "VR sub-coil 2", "current"], "range": ["#1f77b4", "#ff7f0e", "#f08080"]},
      "legend": {"title": null, "orient": "top-right", "offset": 4, "padding": 5, "fillColor": "rgba(255,255,255,0.8)", "strokeColor": "#cccccc", "cornerRadius": 4, "symbolSize": 30, "symbolStrokeWidth": 1.3, "symbolOpacity": 1, "clipHeight": 22, "rowPadding": 0, "symbolOffset": 9, "labelOffset": 30, "labelExpr": "datum.label + '  '"}},
     "shape": {"datum": "VR sub-coil 1", "type": "nominal", "scale": {"domain": ["VR sub-coil 1", "VR sub-coil 2", "current"], "range": ["circle", "M0,0L0,1.37M0,0L-1.19,-0.68M0,0L1.19,-0.68", "M-6,0L6,0"]},
      "legend": {"title": null, "orient": "top-right", "offset": 4, "padding": 5, "fillColor": "rgba(255,255,255,0.8)", "strokeColor": "#cccccc", "cornerRadius": 4, "symbolSize": 30, "symbolStrokeWidth": 1.3, "symbolOpacity": 1, "clipHeight": 22, "rowPadding": 0, "symbolOffset": 9, "labelOffset": 30, "labelExpr": "datum.label + '  '"}}
    }},
   {"data": {"name": "orange1"}, "transform": [{"filter": "indexof([7, 8, 311, 314, 607, 911, 912], datum.t) < 0"}], "mark": {"type": "line", "color": "#ff7f0e", "strokeWidth": 5, "clip": true, "invalid": "break-paths-show-domains"},
    "encoding": {
     "x": {"field": "t", "type": "quantitative"},
     "y": {"field": "v", "type": "quantitative"}
    }},
   {"data": {"name": "orange1"}, "mark": {"type": "point", "filled": false, "size": 30, "strokeWidth": 1.3, "opacity": 1, "clip": true},
    "encoding": {
     "x": {"field": "t", "type": "quantitative"},
     "y": {"field": "v", "type": "quantitative"},
     "color": {"datum": "VR sub-coil 2", "type": "nominal"},
     "shape": {"datum": "VR sub-coil 2", "type": "nominal"}
    }},
   {"data": {"name": "fit1"}, "mark": {"type": "line", "color": "#111111", "strokeDash": [9, 5], "strokeWidth": 2.2, "opacity": 0.9, "clip": true},
    "encoding": {
     "x": {"field": "t", "type": "quantitative"},
     "y": {"field": "v", "type": "quantitative"},
     "detail": {"field": "k", "type": "nominal"}
    }}
  ]},
  {"data": {"name": "cur1"}, "mark": {"type": "line", "strokeWidth": 2, "opacity": 0.75, "clip": true},
   "encoding": {
    "x": {"field": "t", "type": "quantitative"},
    "y": {"field": "A", "type": "quantitative", "scale": {"domain": [-0.6, 12.6], "nice": false, "zero": false}, "axis": {"orient": "right", "values": [0,2,4,6,8,10,12], "title": "Applied current (A)", "titleColor": "#f3a0a0", "grid": false, "titlePadding": 5}},
    "color": {"datum": "current", "type": "nominal"}
   }}
 ],
 "resolve": {"scale": {"y": "independent"}}
},
{
 "title": {"text": "VR coil #3 decay test 1 in LN2", "frame": "group", "anchor": "middle"},
 "width": 475, "height": 259,
 "layer": [
  {"layer": [
   {"data": {"name": "blue2"}, "transform": [{"filter": "(datum.t >= 356 && datum.t <= 631) || datum.t >= 958"}], "mark": {"type": "line", "color": "#1f77b4", "strokeWidth": 4, "clip": true, "invalid": "break-paths-show-domains"},
    "encoding": {
     "x": {"field": "t", "type": "quantitative", "scale": {"domain": [0, 1452], "nice": false, "zero": false}, "axis": {"values": [0,200,400,600,800,1000,1200,1400], "labelExpr": "'' + datum.value", "title": "Time (s)", "grid": true, "titlePadding": 5}},
     "y": {"field": "v", "type": "quantitative", "scale": {"domain": [-110, 110], "nice": false, "zero": false}, "axis": {"values": [-100,-66,-33,0,33,66,100], "labelExpr": "'' + datum.value", "title": "Measured voltage (µV)", "grid": true, "titlePadding": 7}}
    }},
   {"data": {"name": "blue2"}, "mark": {"type": "point", "filled": true, "size": 28, "opacity": 1, "clip": true},
    "encoding": {
     "x": {"field": "t", "type": "quantitative"},
     "y": {"field": "v", "type": "quantitative"},
     "color": {"datum": "VR sub-coil 1", "type": "nominal", "scale": {"domain": ["VR sub-coil 1", "VR sub-coil 2", "current"], "range": ["#1f77b4", "#ff7f0e", "#f08080"]},
      "legend": {"title": null, "orient": "top-right", "offset": 4, "padding": 5, "fillColor": "rgba(255,255,255,0.8)", "strokeColor": "#cccccc", "cornerRadius": 4, "symbolSize": 30, "symbolStrokeWidth": 1.3, "symbolOpacity": 1, "clipHeight": 22, "rowPadding": 0, "symbolOffset": 9, "labelOffset": 30, "labelExpr": "datum.label + '  '"}},
     "shape": {"datum": "VR sub-coil 1", "type": "nominal", "scale": {"domain": ["VR sub-coil 1", "VR sub-coil 2", "current"], "range": ["circle", "M0,0L0,1.37M0,0L-1.19,-0.68M0,0L1.19,-0.68", "M-6,0L6,0"]},
      "legend": {"title": null, "orient": "top-right", "offset": 4, "padding": 5, "fillColor": "rgba(255,255,255,0.8)", "strokeColor": "#cccccc", "cornerRadius": 4, "symbolSize": 30, "symbolStrokeWidth": 1.3, "symbolOpacity": 1, "clipHeight": 22, "rowPadding": 0, "symbolOffset": 9, "labelOffset": 30, "labelExpr": "datum.label + '  '"}}
    }},
   {"data": {"name": "orange2"}, "transform": [{"filter": "datum.t != 501"}], "mark": {"type": "line", "color": "#ff7f0e", "strokeWidth": 5, "clip": true, "invalid": "break-paths-show-domains"},
    "encoding": {
     "x": {"field": "t", "type": "quantitative"},
     "y": {"field": "v", "type": "quantitative"}
    }},
   {"data": {"name": "orange2"}, "mark": {"type": "point", "filled": false, "size": 30, "strokeWidth": 1.3, "opacity": 1, "clip": true},
    "encoding": {
     "x": {"field": "t", "type": "quantitative"},
     "y": {"field": "v", "type": "quantitative"},
     "color": {"datum": "VR sub-coil 2", "type": "nominal"},
     "shape": {"datum": "VR sub-coil 2", "type": "nominal"}
    }},
   {"data": {"name": "fit2"}, "mark": {"type": "line", "color": "#111111", "strokeDash": [9, 5], "strokeWidth": 2.2, "opacity": 0.9, "clip": true},
    "encoding": {
     "x": {"field": "t", "type": "quantitative"},
     "y": {"field": "v", "type": "quantitative"},
     "detail": {"field": "k", "type": "nominal"}
    }}
  ]},
  {"data": {"name": "cur2"}, "mark": {"type": "line", "strokeWidth": 2, "opacity": 0.75, "clip": true},
   "encoding": {
    "x": {"field": "t", "type": "quantitative"},
    "y": {"field": "A", "type": "quantitative", "scale": {"domain": [-0.6, 12.6], "nice": false, "zero": false}, "axis": {"orient": "right", "values": [0,2,4,6,8,10,12], "title": "Applied current (A)", "titleColor": "#f3a0a0", "grid": false, "titlePadding": 5}},
    "color": {"datum": "current", "type": "nominal"}
   }}
 ],
 "resolve": {"scale": {"y": "independent"}}
}
],
"spacing": 6,
"resolve": {"scale": {"color": "independent", "shape": "independent"}, "legend": {"color": "independent", "shape": "independent"}}
}
